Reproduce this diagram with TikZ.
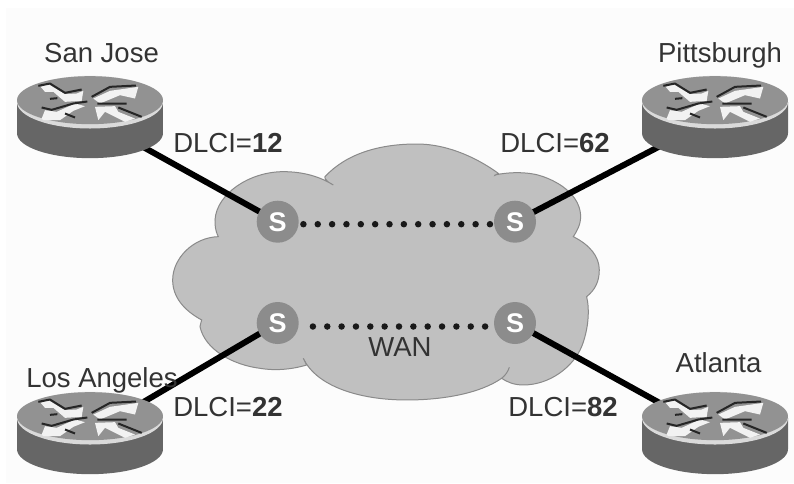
\documentclass[tikz,border=0pt]{standalone}
\usepackage{fontspec}
\setmainfont{Liberation Sans}
\definecolor{bgc}{HTML}{FCFCFC}
\definecolor{cloudc}{HTML}{C0C0C0}
\definecolor{cloude}{HTML}{8A8A8A}
\definecolor{swc}{HTML}{8C8C8C}
\definecolor{txtc}{HTML}{333333}
\definecolor{rtop}{HTML}{929292}
\definecolor{rside}{HTML}{666666}
\definecolor{rrim}{HTML}{DADADA}
\tikzset{
  lbl/.style={font=\fontsize{27.5}{29}\selectfont, text=txtc, inner sep=0pt, text height=19pt, text depth=0pt},
  swnode/.style={circle, fill=swc, minimum size=42pt, inner sep=0pt, text=white, font=\fontsize{27}{28}\selectfont\bfseries, text height=19pt, text depth=0pt},
  trunk/.style={line width=6pt, black},
  dotline/.style={line width=6.5pt, black!90, line cap=round, dash pattern=on 0pt off 14.35pt},
  router/.pic={
    % local coordinates: 1 unit = 1/3 px, origin = router centre
    \begin{scope}[x=0.3333pt,y=-0.3333pt]
      \fill[rside] (-219,-46) -- (-219,47) arc[start angle=180,end angle=0,x radius=219,y radius=75] -- (219,-46) -- cycle;
      \fill[rrim] (0,-46) ellipse[x radius=219,y radius=79];
      \fill[rtop] (0,-52) ellipse[x radius=219,y radius=72];
      \begin{scope}[shift={(-240,-142)}]
        \fill[white!95!black] (92,50) -- (115,42) -- (165,72) -- (200,70) -- (220,62) -- (215,92) -- (165,95) -- (130,65) -- (105,65) -- cycle;
        \fill[white!95!black] (95,145) -- (105,120) -- (140,125) -- (195,100) -- (225,108) -- (190,122) -- (150,150) -- (100,150) -- cycle;
        \fill[white!95!black] (250,85) -- (300,62) -- (385,50) -- (375,85) -- (330,75) -- (270,100) -- cycle;
        \fill[white!95!black] (255,110) -- (315,108) -- (325,125) -- (375,145) -- (345,155) -- (285,125) -- (265,150) -- cycle;
        \draw[black!85, line width=2pt, line join=round]
          (85,47) -- (120,40) -- (165,68) -- (215,58)
          (120,86) -- (142,84)
          (95,112) -- (125,119) -- (190,100) -- (232,94)
          (165,130) -- (195,142)
          (245,80) -- (300,50) -- (378,46)
          (262,100) -- (350,100)
          (325,112) -- (395,140);
      \end{scope}
    \end{scope}
  }
}
\begin{document}
\begin{tikzpicture}[x=1pt,y=-1pt]
\useasboundingbox (0,0) rectangle (794,483);
\fill[white] (0,0) rectangle (794,483);
\fill[bgc] (6,8) rectangle (794,483);
% cloud
\begin{scope}[shift={(160,130)},x=0.3333pt,y=-0.3333pt]
\draw[fill=cloudc, draw=cloude, line width=1pt]
  (520,165) .. controls (490,150) and (495,140) .. (495,140)
  .. controls (560,70) and (660,42) .. (770,42)
  .. controls (870,42) and (960,90) .. (1015,130)
  .. controls (1000,140) and (1005,135) .. (1005,135)
  .. controls (1050,125) and (1110,125) .. (1150,140)
  .. controls (1220,165) and (1262,210) .. (1262,260)
  .. controls (1262,285) and (1250,305) .. (1240,320)
  .. controls (1290,345) and (1318,380) .. (1318,420)
  .. controls (1318,455) and (1305,480) .. (1280,500)
  .. controls (1290,540) and (1285,600) .. (1265,650)
  .. controls (1240,710) and (1170,765) .. (1090,765)
  .. controls (1060,765) and (1040,755) .. (1025,745)
  .. controls (960,790) and (850,810) .. (740,810)
  .. controls (600,810) and (470,770) .. (430,685)
  .. controls (435,695) and (440,705) .. (440,705)
  .. controls (390,720) and (340,722) .. (300,715)
  .. controls (220,705) and (135,660) .. (120,590)
  .. controls (122,580) and (125,570) .. (125,570)
  .. controls (70,540) and (38,500) .. (38,450)
  .. controls (38,385) and (100,322) .. (175,320)
  .. controls (165,300) and (165,285) .. (165,270)
  .. controls (170,190) and (270,125) .. (370,125)
  .. controls (430,125) and (480,140) .. (520,165) -- cycle;
\draw[draw=cloude, line width=1pt] (1025,745) .. controls (1038,735) and (1045,722) .. (1048,712);
\end{scope}
% anchors and switches
\coordinate (sj) at (90,117.5);
\coordinate (pi) at (715,117.5);
\coordinate (la) at (90,433.5);
\coordinate (at) at (715,433.5);
\coordinate (s1) at (277.7,221.7);
\coordinate (s2) at (515,221.7);
\coordinate (s3) at (277.7,323);
\coordinate (s4) at (515,323);
% connectors
\draw[trunk] (sj) -- (s1);
\draw[trunk] (pi) -- (s2);
\draw[trunk] (la) -- (s3);
\draw[trunk] (at) -- (s4);
% switches above the lines
\node[swnode] (n1) at (s1) {S};
\node[swnode] (n2) at (s2) {S};
\node[swnode] (n3) at (s3) {S};
\node[swnode] (n4) at (s4) {S};
\draw[dotline, shorten <=4.5pt, shorten >=1pt] ([yshift=-2.5pt]n1.east) -- ([yshift=-2.5pt]n2.west);
\draw[dotline, shorten <=14pt, shorten >=1pt] ([yshift=-3.5pt]n3.east) -- ([yshift=-3.5pt]n4.west);
% routers
\pic at (sj) {router};
\pic at (pi) {router};
\pic at (la) {router};
\pic at (at) {router};
% labels
\node[lbl] (lsj) at (101.5,53) {San Jose};
\node[lbl] (lpi) at (720,53) {Pittsburgh};
\node[lbl] (lla) at (102,378) {Los Angeles};
\node[lbl] (lat) at (718.5,363) {Atlanta};
\node[lbl] (d12) at (228,143) {DLCI=\textbf{12}};
\node[lbl] (d62) at (555,143) {DLCI=\textbf{62}};
\node[lbl] (d22) at (228,407) {DLCI=\textbf{22}};
\node[lbl] (d82) at (563,407) {DLCI=\textbf{82}};
\node[lbl] (wan) at (400,347) {WAN};
\end{tikzpicture}
\end{document}
